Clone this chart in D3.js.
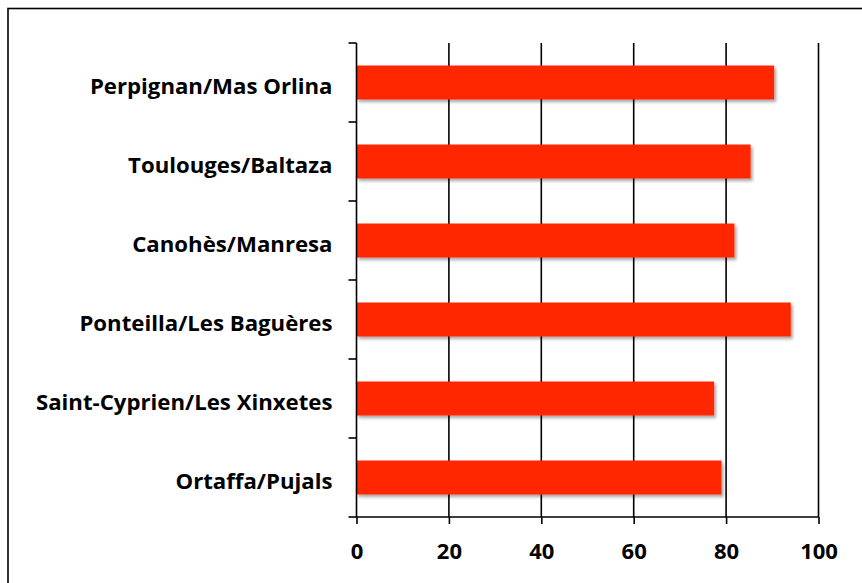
<!DOCTYPE html>
<html>
<head>
<meta charset="utf-8">
<script src="https://cdn.jsdelivr.net/npm/d3@7"></script>
<style>
html,body{margin:0;padding:0;background:#fff;}
svg{display:block;}
</style>
</head>
<body>
<svg id="chart" width="862" height="583"></svg>
<script>
const categories = ["Perpignan/Mas Orlina","Toulouges/Baltaza","Canohès/Manresa","Ponteilla/Les Baguères","Saint-Cyprien/Les Xinxetes","Ortaffa/Pujals"];
const values = [90.4, 85.3, 81.8, 94.0, 77.4, 79.0];
const xTicks = [0, 20, 40, 60, 80, 100];

const svg = d3.select("#chart");
const W = 862, H = 583;
const m = {left: 356.5, right: 862 - 818.5, top: 43, bottom: 583 - 517};
const fontFam = "'Open Sans', sans-serif";

// outer frame
svg.append("rect").attr("x", 8).attr("y", 8.5).attr("width", 900).attr("height", 600)
  .attr("fill", "none").attr("stroke", "#000").attr("stroke-width", 1.6);

const defs = svg.append("defs");
const f = defs.append("filter").attr("id", "shadow").attr("x", "-5%").attr("y", "-20%").attr("width", "115%").attr("height", "160%");
f.append("feDropShadow").attr("dx", 2).attr("dy", 2.5).attr("stdDeviation", 1.6)
  .attr("flood-color", "#000").attr("flood-opacity", 0.35);

const x = d3.scaleLinear().domain([0, 100]).range([m.left, W - m.right]);
const y = d3.scaleBand().domain(categories).range([m.top, H - m.bottom]).paddingInner(0).paddingOuter(0);
const barH = y.bandwidth() * 0.43;

// gridlines
svg.append("g").selectAll("line").data(xTicks.filter(d => d > 0)).join("line")
  .attr("x1", d => x(d)).attr("x2", d => x(d))
  .attr("y1", m.top).attr("y2", H - m.bottom)
  .attr("stroke", "#000").attr("stroke-width", 1.6);

// bars
svg.append("g").selectAll("rect").data(categories).join("rect")
  .attr("x", x(0))
  .attr("y", d => y(d) + (y.bandwidth() - barH) / 2)
  .attr("width", (d, i) => x(values[i]) - x(0))
  .attr("height", barH)
  .attr("fill", "#FF2600")
  .attr("filter", "url(#shadow)");

// x axis
const xAxis = d3.axisBottom(x).tickValues(xTicks).tickSize(7).tickPadding(22).tickFormat(d3.format("d"));
const gx = svg.append("g").attr("transform", `translate(0,${H - m.bottom})`).call(xAxis);
gx.select(".domain").attr("stroke-width", 1.6).attr("d", `M${x(0)},0H${x(100)}`);
gx.selectAll(".tick line").attr("stroke-width", 1.6);
gx.selectAll(".tick text").attr("font-family", fontFam).attr("font-weight", "bold")
  .attr("font-size", 22).attr("fill", "#000").attr("dy", null).attr("y", 42);

// y axis: line plus ticks at band boundaries
const gy = svg.append("g");
gy.append("line").attr("x1", x(0)).attr("x2", x(0)).attr("y1", m.top).attr("y2", H - m.bottom)
  .attr("stroke", "#000").attr("stroke-width", 1.6);
const bounds = categories.map(c => y(c)).concat([H - m.bottom]);
gy.selectAll("line.tk").data(bounds).join("line").attr("class", "tk")
  .attr("x1", x(0) - 8).attr("x2", x(0)).attr("y1", d => d).attr("y2", d => d)
  .attr("stroke", "#000").attr("stroke-width", 1.6);

// category labels
svg.append("g").selectAll("text").data(categories).join("text")
  .attr("x", x(0) - 24)
  .attr("y", d => y(d) + y.bandwidth() / 2 + 11.5)
  .attr("text-anchor", "end")
  .attr("font-family", fontFam).attr("font-weight", "bold").attr("font-size", 22.2)
  .attr("fill", "#000")
  .text(d => d);
</script>
</body>
</html>
